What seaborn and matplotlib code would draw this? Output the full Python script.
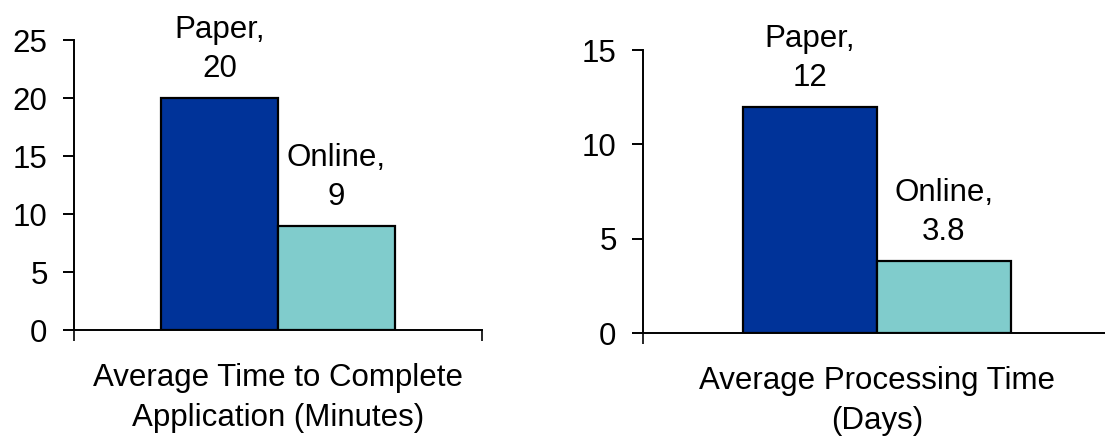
import pandas as pd
import matplotlib
matplotlib.use("Agg")
import matplotlib.pyplot as plt
import seaborn as sns

# data
methods = ["Paper", "Online"]
minutes = [20, 9]
days = [12, 3.8]
metric_left = "Average Time to Complete\nApplication (Minutes)"
metric_right = "Average Processing Time\n(Days)"
ticks_left = [0, 5, 10, 15, 20, 25]
ticks_right = [0, 5, 10, 15]

colors = {"Paper": "#003399", "Online": "#80CCCC"}

sns.set_theme(style="white")
plt.rcParams['font.family'] = ['Liberation Sans', 'DejaVu Sans']
plt.rcParams['text.color'] = 'black'
plt.rcParams['axes.labelcolor'] = 'black'

FS = 22.5


def draw_panel(ax, metric, values, yticks):
    df = pd.DataFrame({"metric": [metric] * len(methods),
                       "method": methods,
                       "value": values})
    sns.barplot(data=df, x="metric", y="value", hue="method",
                palette=colors, saturation=1, width=0.572,
                edgecolor="black", linewidth=1.6, legend=False, ax=ax)

    for bar, m, v in zip(ax.patches, methods, values):
        ax.annotate(f"{m},\n{v:g}", xy=(bar.get_x() + bar.get_width() / 2, v),
                    xytext=(0, 10), textcoords="offset points",
                    ha="center", va="bottom", fontsize=FS,
                    linespacing=1.4, color="black")

    ax.set_xlim(-0.5, 0.5)
    ax.set_ylim(yticks[0], yticks[-1])
    ax.set_yticks(yticks)
    ax.set_xticks([-0.5, 0.5])
    ax.set_xticklabels([])
    ax.set_xlabel(metric, fontsize=FS, labelpad=12, linespacing=1.45)
    ax.set_ylabel("")
    ax.tick_params(axis="y", direction="out", length=8, width=1.4,
                   pad=11, labelsize=FS, left=True, colors="black")
    ax.tick_params(axis="x", direction="out", length=8, width=1.4, bottom=True)
    sns.despine(ax=ax)
    for s in ["left", "bottom"]:
        ax.spines[s].set_color("black")
        ax.spines[s].set_linewidth(1.4)
    ax.patch.set_alpha(0)


fig = plt.figure(figsize=(11.05, 4.36), dpi=100)
ax1 = fig.add_axes([74 / 1105, 106 / 436, 408 / 1105, 290 / 436])
ax2 = fig.add_axes([643 / 1105, 103 / 436, 468 / 1105, 283 / 436])

draw_panel(ax1, metric_left, minutes, ticks_left)
draw_panel(ax2, metric_right, days, ticks_right)

fig.savefig("out.png", dpi=100)
